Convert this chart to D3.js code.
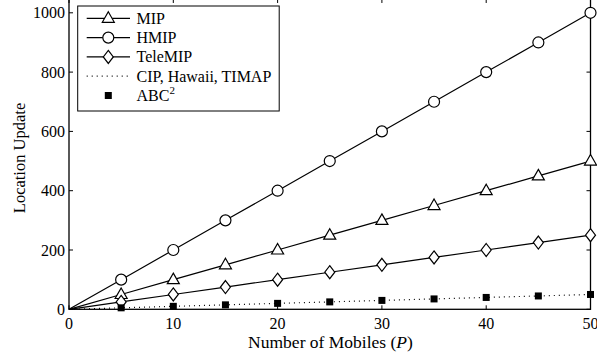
<!DOCTYPE html>
<html>
<head>
<meta charset="utf-8">
<script src="https://cdn.jsdelivr.net/npm/d3@7"></script>
<style>
body { margin: 0; background: #fff; }
text { font-family: "Liberation Serif", "Times New Roman", serif; fill: #000; }
</style>
</head>
<body>
<svg id="chart" width="597" height="358"></svg>
<script>
const mobiles = [0, 5, 10, 15, 20, 25, 30, 35, 40, 45, 50];
const mip = [0, 50, 100, 150, 200, 250, 300, 350, 400, 450, 500];
const hmip = [0, 100, 200, 300, 400, 500, 600, 700, 800, 900, 1000];
const telemip = [0, 25, 50, 75, 100, 125, 150, 175, 200, 225, 250];
const cip = [0, 5, 10, 15, 20, 25, 30, 35, 40, 45, 50];
const abc2 = [0, 5, 10, 15, 20, 25, 30, 35, 40, 45, 50];
const xTicks = [0, 10, 20, 30, 40, 50];
const yTicks = [0, 200, 400, 600, 800, 1000];

const svg = d3.select("#chart");
const left = 69, right = 590.5, bottom = 309.3;
const fs = 16;
const x = d3.scaleLinear().domain([0, 50]).range([left, right]);
const y = d3.scaleLinear().domain([0, 1000]).range([bottom, 12.8]);
const plotTop = y(1050);

// frame
svg.append("rect")
  .attr("x", left).attr("y", plotTop)
  .attr("width", right - left).attr("height", bottom - plotTop)
  .attr("fill", "none").attr("stroke", "#000").attr("stroke-width", 1.3);

const tl = 4;
const ax = svg.append("g").attr("stroke", "#000").attr("stroke-width", 1);
xTicks.forEach(t => {
  ax.append("line").attr("x1", x(t)).attr("x2", x(t)).attr("y1", bottom).attr("y2", bottom - tl);
  ax.append("line").attr("x1", x(t)).attr("x2", x(t)).attr("y1", plotTop).attr("y2", plotTop + tl + 1);
});
yTicks.forEach(t => {
  ax.append("line").attr("x1", left).attr("x2", left + tl).attr("y1", y(t)).attr("y2", y(t));
  ax.append("line").attr("x1", right).attr("x2", right - tl).attr("y1", y(t)).attr("y2", y(t));
});

svg.selectAll(".xl").data(xTicks).join("text")
  .attr("x", d => x(d)).attr("y", bottom + 20)
  .attr("text-anchor", "middle").attr("font-size", fs).text(d => d);
svg.selectAll(".yl").data(yTicks).join("text")
  .attr("x", left - 4).attr("y", d => y(d) + 5.5)
  .attr("text-anchor", "end").attr("font-size", fs).text(d => d);

const xlab = svg.append("text").attr("x", 330.5).attr("y", 348)
  .attr("text-anchor", "middle").attr("font-size", 17.5);
xlab.append("tspan").text("Number of Mobiles (");
xlab.append("tspan").attr("font-style", "italic").text("P");
xlab.append("tspan").text(")");

svg.append("text").attr("transform", "translate(25,158) rotate(-90)")
  .attr("text-anchor", "middle").attr("font-size", 16.5).text("Location Update");

const line = d3.line().x(d => x(d[0])).y(d => y(d[1]));
const pairs = vals => mobiles.map((m, i) => [m, vals[i]]);

function marker(g, type, cx, cy) {
  if (type === "circle") {
    g.append("circle").attr("cx", cx).attr("cy", cy).attr("r", 5.5)
      .attr("fill", "#fff").attr("stroke", "#000").attr("stroke-width", 1.2);
  } else if (type === "triangle") {
    g.append("path").attr("d", `M${cx},${cy - 6.5}L${cx + 6},${cy + 4}L${cx - 6},${cy + 4}Z`)
      .attr("fill", "#fff").attr("stroke", "#000").attr("stroke-width", 1.2);
  } else if (type === "diamond") {
    g.append("path").attr("d", `M${cx},${cy - 6.5}L${cx + 5},${cy}L${cx},${cy + 6.5}L${cx - 5},${cy}Z`)
      .attr("fill", "#fff").attr("stroke", "#000").attr("stroke-width", 1.2);
  } else if (type === "square") {
    g.append("rect").attr("x", cx - 3.5).attr("y", cy - 3.5).attr("width", 7).attr("height", 7)
      .attr("fill", "#000");
  }
}

const series = [
  { name: "MIP", vals: mip, mk: "triangle", dash: null, line: true },
  { name: "HMIP", vals: hmip, mk: "circle", dash: null, line: true },
  { name: "TeleMIP", vals: telemip, mk: "diamond", dash: null, line: true },
  { name: "CIP, Hawaii, TIMAP", vals: cip, mk: null, dash: "1,4", line: true },
  { name: "ABC", vals: abc2, mk: "square", dash: null, line: false }
];

const plot = svg.append("g");
series.forEach(s => {
  if (s.line) {
    plot.append("path").datum(pairs(s.vals)).attr("d", line)
      .attr("fill", "none").attr("stroke", "#000").attr("stroke-width", 1.2)
      .attr("stroke-dasharray", s.dash);
  }
});
series.forEach(s => {
  if (!s.mk) return;
  pairs(s.vals).slice(1).forEach(p => marker(plot, s.mk, x(p[0]), y(p[1])));
});

// legend
const lg = svg.append("g");
lg.append("rect").attr("x", 77.7).attr("y", 6).attr("width", 201.5).attr("height", 105)
  .attr("fill", "#fff").attr("stroke", "#000").attr("stroke-width", 1);
series.forEach((s, i) => {
  const ly = 18.3 + i * 19.3;
  if (s.line) {
    lg.append("line").attr("x1", 86.7).attr("x2", 130).attr("y1", ly).attr("y2", ly)
      .attr("stroke", "#000").attr("stroke-width", 1.2).attr("stroke-dasharray", s.dash);
  }
  if (s.mk) marker(lg, s.mk, 108.3, ly);
  const t = lg.append("text").attr("x", 136.5).attr("y", ly + 5.5).attr("font-size", fs).text(s.name);
  if (s.name === "ABC") t.append("tspan").attr("dy", -7).attr("font-size", 11).text("2");
});
</script>
</body>
</html>
